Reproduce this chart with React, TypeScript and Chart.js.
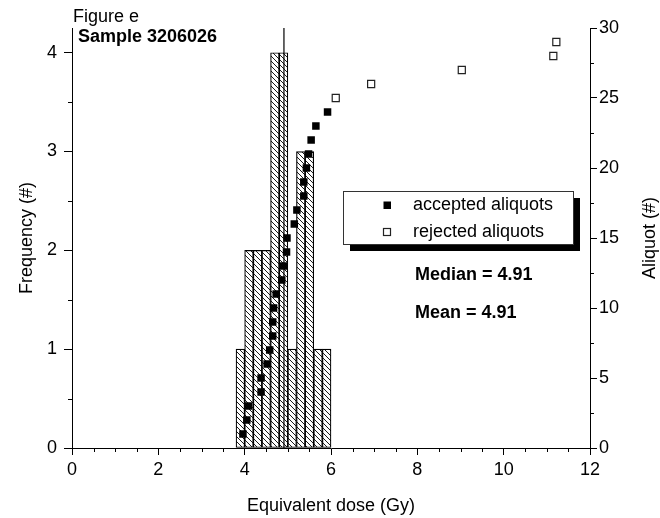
import React, { useEffect, useRef } from 'react';
import { Chart, registerables } from 'chart.js';

Chart.register(...registerables);

// ---------- data ----------
const binStarts = [3.8, 4.0, 4.2, 4.4, 4.6, 4.8, 5.0, 5.2, 5.4, 5.6, 5.8];
const binWidth = 0.2;
const frequencies = [1, 2, 2, 2, 4, 4, 1, 3, 3, 1, 1];

const acceptedDoses = [3.96, 4.05, 4.09, 4.38, 4.38, 4.52, 4.58, 4.65, 4.65, 4.67, 4.73, 4.86, 4.9, 4.97, 4.98, 5.15, 5.21, 5.37, 5.37, 5.43, 5.48, 5.54, 5.65, 5.92];
const acceptedAliquots = [1, 2, 3, 4, 5, 6, 7, 8, 9, 10, 11, 12, 13, 14, 15, 16, 17, 18, 19, 20, 21, 22, 23, 24];
const rejectedDoses = [6.11, 6.93, 9.03, 11.15, 11.22];
const rejectedAliquots = [25, 26, 27, 28, 29];

const medianDose = 4.91;
const meanDose = 4.91;

const figureLabel = 'Figure e';
const sampleLabel = 'Sample 3206026';
const xTitle = 'Equivalent dose (Gy)';
const yTitle = 'Frequency (#)';
const y2Title = 'Aliquot (#)';
const legendLabels = ['accepted aliquots', 'rejected aliquots'];

const xMin = 0, xMax = 12, xStep = 2, xMinorStep = 0.5;
const yMin = 0, yMax = 4.25, yStep = 1, yMinorStep = 0.5;
const y2Min = 0, y2Max = 30, y2Step = 5, y2MinorStep = 2.5;

const FONT = "'Liberation Sans', Arial, Helvetica, sans-serif";

function makeHatch(): CanvasPattern | string {
  const s = 5;
  const c = document.createElement('canvas');
  c.width = s;
  c.height = s;
  const g = c.getContext('2d');
  if (!g) return '#fff';
  g.fillStyle = '#fff';
  g.fillRect(0, 0, s, s);
  g.strokeStyle = '#000';
  g.lineWidth = 0.9;
  g.beginPath();
  g.moveTo(-1, -1);
  g.lineTo(s + 1, s + 1);
  g.moveTo(-1, s - 1);
  g.lineTo(1, s + 1);
  g.moveTo(s - 1, -1);
  g.lineTo(s + 1, 1);
  g.stroke();
  const p = g.createPattern(c, 'repeat');
  return p || '#fff';
}

const overlayPlugin = {
  id: 'overlay',
  afterDraw(chart: any) {
    const { ctx, chartArea, scales } = chart;
    const { left, right, bottom, top } = chartArea;
    ctx.save();
    ctx.strokeStyle = '#000';
    ctx.lineWidth = 1;
    // minor ticks
    ctx.beginPath();
    for (let v = xMin; v <= xMax + 1e-9; v += xMinorStep) {
      if (Math.abs(v / xStep - Math.round(v / xStep)) < 1e-6) continue;
      const px = Math.round(scales.x.getPixelForValue(v)) + 0.5;
      ctx.moveTo(px, bottom);
      ctx.lineTo(px, bottom + 4);
    }
    for (let v = yMin; v <= 4 + 1e-9; v += yMinorStep) {
      if (Math.abs(v / yStep - Math.round(v / yStep)) < 1e-6) continue;
      const py = Math.round(scales.y.getPixelForValue(v)) + 0.5;
      ctx.moveTo(left - 4, py);
      ctx.lineTo(left, py);
    }
    for (let v = y2Min; v <= y2Max + 1e-9; v += y2MinorStep) {
      if (Math.abs(v / y2Step - Math.round(v / y2Step)) < 1e-6) continue;
      const py = Math.round(scales.y2.getPixelForValue(v)) + 0.5;
      ctx.moveTo(right, py);
      ctx.lineTo(right + 4, py);
    }
    ctx.stroke();

    // right axis title (reads bottom-to-top)
    ctx.fillStyle = '#000';
    ctx.font = `18px ${FONT}`;
    ctx.textAlign = 'center';
    ctx.textBaseline = 'middle';
    ctx.save();
    ctx.translate(650, (top + bottom) / 2);
    ctx.rotate(-Math.PI / 2);
    ctx.fillText(y2Title, 0, 0);
    ctx.restore();

    // header texts
    ctx.textAlign = 'left';
    ctx.font = `18px ${FONT}`;
    ctx.fillText(figureLabel, 73, 17);
    ctx.font = `bold 18px ${FONT}`;
    ctx.fillText(sampleLabel, 78, 37);

    // legend box with shadow
    const bx = 343, by = 191, bw = 230, bh = 53, sh = 7;
    ctx.fillStyle = '#000';
    ctx.fillRect(bx + sh, by + sh, bw, bh);
    ctx.fillStyle = '#fff';
    ctx.fillRect(bx, by, bw, bh);
    ctx.strokeStyle = '#333';
    ctx.lineWidth = 1;
    ctx.strokeRect(bx + 0.5, by + 0.5, bw, bh);
    // symbols
    ctx.fillStyle = '#000';
    ctx.fillRect(383.5, 201.5, 7.5, 7.5);
    ctx.fillStyle = '#fff';
    ctx.fillRect(383.5, 228.5, 7, 7);
    ctx.strokeStyle = '#222';
    ctx.lineWidth = 1.2;
    ctx.strokeRect(383.5, 228.5, 7, 7);
    ctx.fillStyle = '#000';
    ctx.font = `18px ${FONT}`;
    ctx.fillText(legendLabels[0], 413, 205);
    ctx.fillText(legendLabels[1], 413, 232);

    // statistics
    ctx.font = `bold 18px ${FONT}`;
    ctx.fillText(`Median = ${medianDose.toFixed(2)}`, 415, 275);
    ctx.fillText(`Mean = ${meanDose.toFixed(2)}`, 415, 313);
    ctx.restore();
  },
};

export default function App() {
  const canvasRef = useRef<HTMLCanvasElement | null>(null);

  useEffect(() => {
    const canvas = canvasRef.current;
    if (!canvas) return;
    Chart.defaults.font.family = FONT;
    Chart.defaults.font.size = 18;
    Chart.defaults.color = '#000';
    const hatch = makeHatch();

    const axisCommon = (tickLength: number) => ({
      grid: {
        drawOnChartArea: false,
        drawTicks: true,
        tickLength,
        tickColor: '#000',
        tickWidth: 1,
        offset: false,
      },
      border: { display: true, color: '#000', width: 1 },
    });

    const chart = new Chart(canvas, {
      type: 'scatter',
      data: {
        datasets: [
          {
            type: 'scatter',
            label: legendLabels[0],
            data: acceptedDoses.map((d, i) => ({ x: d, y: acceptedAliquots[i] })),
            yAxisID: 'y2',
            xAxisID: 'x',
            pointStyle: 'rect',
            pointRadius: 5.3,
            backgroundColor: '#000',
            borderColor: '#000',
            borderWidth: 0,
            order: 0,
          },
          {
            type: 'scatter',
            label: legendLabels[1],
            data: rejectedDoses.map((d, i) => ({ x: d, y: rejectedAliquots[i] })),
            yAxisID: 'y2',
            xAxisID: 'x',
            pointStyle: 'rect',
            pointRadius: 5,
            backgroundColor: '#fff',
            borderColor: '#222',
            borderWidth: 1.2,
            order: 0,
          },
          {
            type: 'line',
            label: 'median',
            data: [
              { x: medianDose, y: yMin },
              { x: medianDose, y: yMax },
            ],
            yAxisID: 'y',
            xAxisID: 'x',
            borderColor: '#000',
            borderWidth: 1.2,
            pointRadius: 0,
            fill: false,
            order: 1,
          },
          {
            type: 'bar',
            label: 'frequency',
            data: binStarts.map((b, i) => ({ x: b + binWidth / 2, y: frequencies[i] })),
            yAxisID: 'y',
            xAxisID: 'x',
            backgroundColor: hatch as any,
            borderColor: '#000',
            borderWidth: 1.2,
            borderSkipped: false,
            barPercentage: 1,
            categoryPercentage: 1,
            order: 2,
          },
        ] as any,
      },
      options: {
        animation: false,
        responsive: false,
        maintainAspectRatio: false,
        layout: { padding: { top: 28, left: 0, right: 0, bottom: 0 } },
        plugins: {
          legend: { display: false },
          tooltip: { enabled: false },
        },
        scales: {
          x: {
            type: 'linear',
            position: 'bottom',
            min: xMin,
            max: xMax,
            offset: false,
            ticks: { stepSize: xStep, padding: 4, maxRotation: 0, autoSkip: false, color: '#000', font: { size: 18 } },
            ...axisCommon(7),
            title: { display: true, text: xTitle, color: '#000', font: { size: 18 }, padding: { top: 0, bottom: 1 } },
            afterFit: (s: any) => {
              s.height = 70;
            },
          },
          y: {
            type: 'linear',
            position: 'left',
            min: yMin,
            max: yMax,
            ticks: { stepSize: yStep, padding: 7, color: '#000', font: { size: 18 } },
            afterBuildTicks: (s: any) => {
              s.ticks = s.ticks.filter((t: any) => Math.abs(t.value - Math.round(t.value)) < 1e-9);
            },
            ...axisCommon(8),
            title: { display: true, text: yTitle, color: '#000', font: { size: 18 }, padding: { top: 16, bottom: 0 } },
            afterFit: (s: any) => {
              s.width = 72;
            },
          },
          y2: {
            type: 'linear',
            position: 'right',
            min: y2Min,
            max: y2Max,
            ticks: { stepSize: y2Step, padding: 2, color: '#000', font: { size: 18 } },
            ...axisCommon(7),
            afterFit: (s: any) => {
              s.width = 70;
            },
          },
        },
      } as any,
      plugins: [overlayPlugin],
    });

    return () => {
      chart.destroy();
    };
  }, []);

  return (
    <div style={{ position: 'fixed', left: 0, top: 0, width: 660, height: 518, background: '#fff' }}>
      <canvas ref={canvasRef} width={660} height={518} style={{ width: 660, height: 518, display: 'block' }} />
    </div>
  );
}
